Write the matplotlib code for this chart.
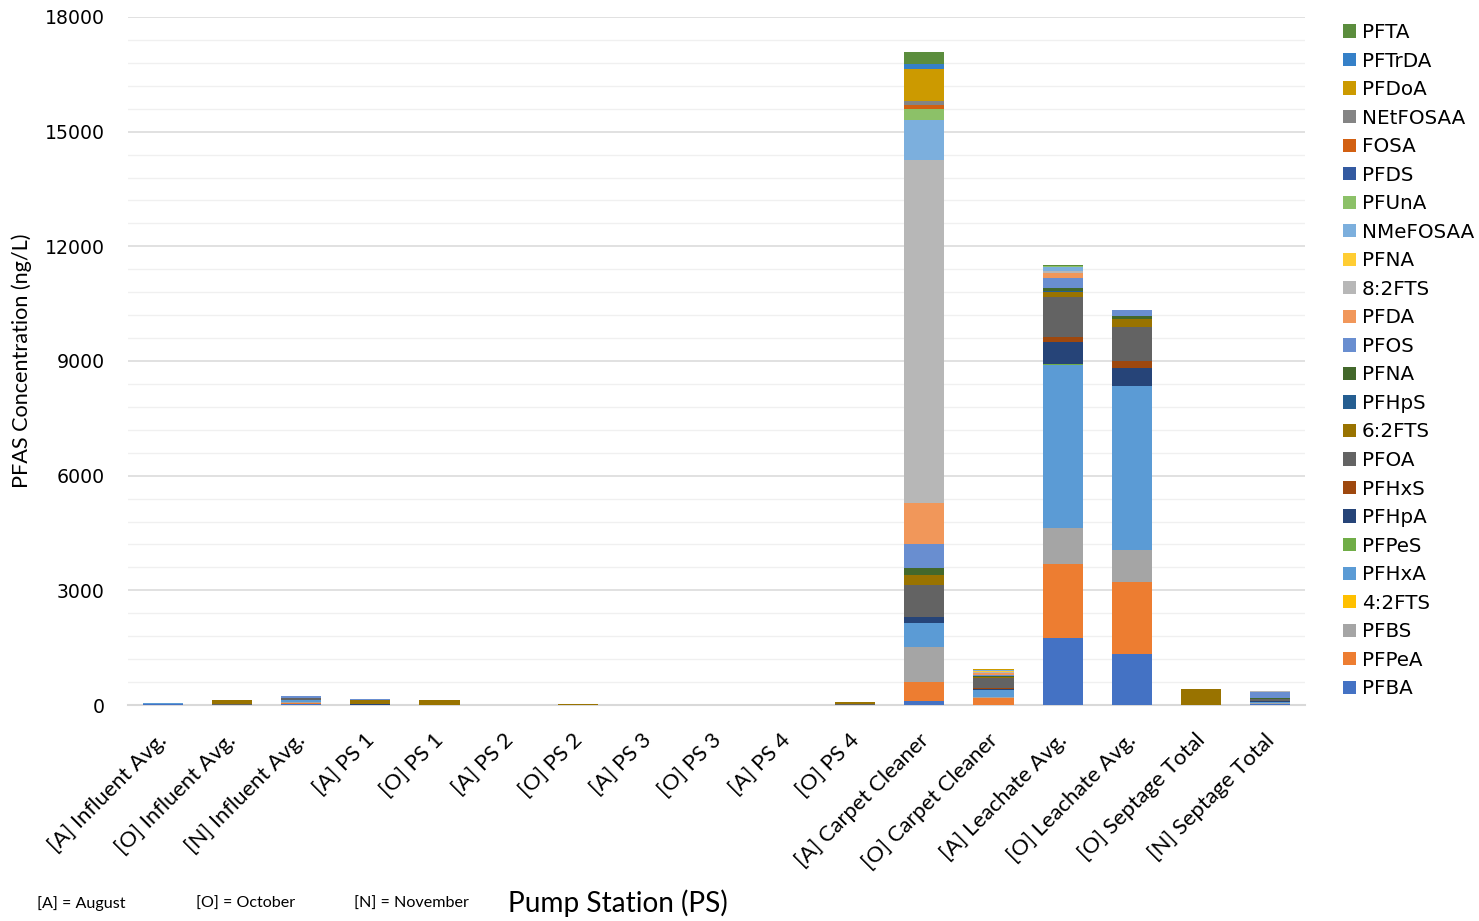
import matplotlib
matplotlib.use("Agg")
import matplotlib.pyplot as plt
import matplotlib.transforms as mtransforms
import numpy as np
from matplotlib.ticker import MultipleLocator

# sampling locations (x axis)
stations = ['[A] Influent Avg.', '[O] Influent Avg.', '[N] Influent Avg.',
            '[A] PS 1', '[O] PS 1', '[A] PS 2', '[O] PS 2', '[A] PS 3', '[O] PS 3',
            '[A] PS 4', '[O] PS 4', '[A] Carpet Cleaner', '[O] Carpet Cleaner',
            '[A] Leachate Avg.', '[O] Leachate Avg.', '[O] Septage Total',
            '[N] Septage Total']

# PFAS concentrations in ng/L, one list per compound, stacked bottom -> top
pfba     = [20, 5, 30, 5, 3, 2, 2, 1, 1, 2, 3, 100, 10, 1748, 1322, 0, 15]
pfpea    = [5, 2, 35, 3, 2, 2, 2, 1, 1, 2, 3, 502, 165, 1930, 1904, 0, 20]
pfbs     = [5, 2, 15, 2, 2, 3, 1, 1, 1, 3, 2, 926, 26, 948, 817, 0, 10]
fts42    = [0, 0, 0, 0, 0, 0, 0, 0, 0, 0, 0, 0, 0, 5, 0, 0, 0]
pfhxa    = [10, 2, 45, 3, 2, 0, 1, 0, 0, 0, 2, 613, 183, 4270, 4305, 0, 40]
pfpes    = [0, 0, 0, 0, 0, 0, 0, 0, 0, 0, 0, 0, 0, 26, 0, 0, 0]
pfhpa    = [3, 1, 5, 2, 1, 0, 0, 0, 0, 0, 1, 167, 43, 574, 470, 0, 15]
pfhxs    = [2, 0, 3, 0, 0, 0, 0, 0, 0, 0, 0, 0, 26, 130, 183, 0, 5]
pfoa     = [5, 2, 40, 3, 2, 1, 1, 1, 1, 1, 3, 826, 261, 1044, 887, 0, 55]
fts62    = [0, 112, 0, 115, 112, 0, 30, 0, 0, 0, 55, 256, 26, 130, 217, 425, 10]
pfhps    = [0, 0, 0, 0, 0, 0, 0, 0, 0, 0, 0, 0, 0, 17, 0, 0, 0]
pfna     = [0, 0, 0, 0, 0, 0, 0, 0, 0, 0, 0, 201, 15, 87, 78, 0, 10]
pfos     = [15, 5, 55, 28, 3, 0, 0, 0, 0, 0, 3, 625, 35, 261, 157, 0, 150]
pfda     = [0, 0, 2, 0, 0, 0, 0, 0, 0, 0, 0, 1070, 50, 130, 0, 0, 10]
fts82    = [0, 0, 0, 0, 0, 0, 0, 0, 0, 0, 0, 8966, 30, 43, 0, 0, 35]
pfna_b   = [0, 0, 0, 0, 0, 0, 0, 0, 0, 0, 0, 0, 10, 15, 0, 0, 0]
nmefosaa = [0, 0, 0, 0, 0, 0, 0, 0, 0, 0, 0, 1049, 35, 104, 0, 0, 0]
pfuna    = [0, 0, 0, 0, 0, 0, 0, 0, 0, 0, 0, 290, 0, 20, 0, 0, 0]
pfds     = [0, 0, 0, 0, 0, 0, 0, 0, 0, 0, 0, 0, 0, 0, 0, 0, 0]
fosa     = [0, 0, 0, 0, 0, 0, 0, 0, 0, 0, 0, 112, 0, 0, 0, 0, 0]
netfosaa = [0, 0, 0, 0, 0, 0, 0, 0, 0, 0, 0, 89, 0, 0, 0, 0, 0]
pfdoa    = [0, 0, 0, 0, 0, 0, 0, 0, 0, 0, 0, 848, 25, 15, 0, 0, 0]
pftrda   = [0, 0, 0, 0, 0, 0, 0, 0, 0, 0, 0, 134, 0, 0, 0, 0, 0]
pfta     = [0, 0, 0, 0, 0, 0, 0, 0, 0, 0, 0, 301, 0, 13, 0, 0, 0]

compounds = ['PFBA', 'PFPeA', 'PFBS', '4:2FTS', 'PFHxA', 'PFPeS', 'PFHpA', 'PFHxS',
             'PFOA', '6:2FTS', 'PFHpS', 'PFNA', 'PFOS', 'PFDA', '8:2FTS', 'PFNA',
             'NMeFOSAA', 'PFUnA', 'PFDS', 'FOSA', 'NEtFOSAA', 'PFDoA', 'PFTrDA', 'PFTA']
series = [pfba, pfpea, pfbs, fts42, pfhxa, pfpes, pfhpa, pfhxs, pfoa, fts62, pfhps,
          pfna, pfos, pfda, fts82, pfna_b, nmefosaa, pfuna, pfds, fosa, netfosaa,
          pfdoa, pftrda, pfta]
colors = ['#4472C4', '#ED7D31', '#A5A5A5', '#FFC000', '#5B9BD5', '#70AD47', '#264478',
          '#9E480E', '#636363', '#997300', '#255E91', '#43682B', '#698ED0', '#F1975A',
          '#B7B7B7', '#FFCD33', '#7CAFDD', '#8CC168', '#335AA1', '#D26012', '#848484',
          '#CC9A00', '#3580C8', '#5B8D3D']

W, H = 1479, 921
fig = plt.figure(figsize=(W / 100, H / 100), dpi=100)
ax = fig.add_axes([128 / W, 1 - 705 / H, (1305 - 128) / W, (705 - 17) / H])

x = np.arange(len(stations))
bottom = np.zeros(len(stations))
handles = []
for vals, name, c in zip(series, compounds, colors):
    vals = np.array(vals, dtype=float)
    b = ax.bar(x, vals, 0.58, bottom=bottom, color=c, linewidth=0,
               label=name, zorder=3)
    handles.append(b)
    bottom += vals

ax.set_xlim(-0.5, len(stations) - 0.5)
ax.set_ylim(0, 18000)
ax.yaxis.set_major_locator(MultipleLocator(3000))
ax.yaxis.set_minor_locator(MultipleLocator(600))
ax.grid(which='major', axis='y', color='#d9d9d9', linewidth=1.1, zorder=0)
ax.grid(which='minor', axis='y', color='#f0f0f0', linewidth=1.0, zorder=0)
for s in ['top', 'right', 'left']:
    ax.spines[s].set_visible(False)
ax.spines['bottom'].set_color('#d9d9d9')
ax.spines['bottom'].set_linewidth(1.5)

ax.tick_params(axis='y', which='both', length=0, pad=17, labelsize=13.6)
ax.tick_params(axis='x', length=0, pad=18)
ax.set_xticks(x)
ax.set_xticklabels(stations, rotation=45, ha='right', va='top',
                   rotation_mode='anchor', fontsize=15.8, family='Lato')
# nudge the slanted labels a little to the left
shift = mtransforms.ScaledTranslation(-6 / 100, 0, fig.dpi_scale_trans)
for lbl in ax.get_xticklabels():
    lbl.set_transform(lbl.get_transform() + shift)

fig.text(22 / W, 1 - 361 / H, 'PFAS Concentration (ng/L)', rotation=90,
         ha='center', va='center', fontsize=15.6, family='Lato')
fig.text(508 / W, 1 - 903 / H, 'Pump Station (PS)', ha='left', va='center',
         fontsize=20.2, family='Lato')
fig.text(37 / W, 1 - 904 / H, '[A] = August', ha='left', va='center',
         fontsize=11.6, family='Lato')
fig.text(196 / W, 1 - 904 / H, '[O] = October', ha='left', va='center',
         fontsize=11.6, family='Lato')
fig.text(354 / W, 1 - 904 / H, '[N] = November', ha='left', va='center',
         fontsize=11.6, family='Lato')

fig.legend(handles[::-1], compounds[::-1], loc='upper left',
           bbox_to_anchor=(1343 / W, 1 - 23 / H), frameon=False, fontsize=14.3,
           handlelength=0.65, handleheight=0.65, handletextpad=0.3,
           labelspacing=0.48, borderpad=0, borderaxespad=0)

fig.savefig('out.png', dpi=100)
